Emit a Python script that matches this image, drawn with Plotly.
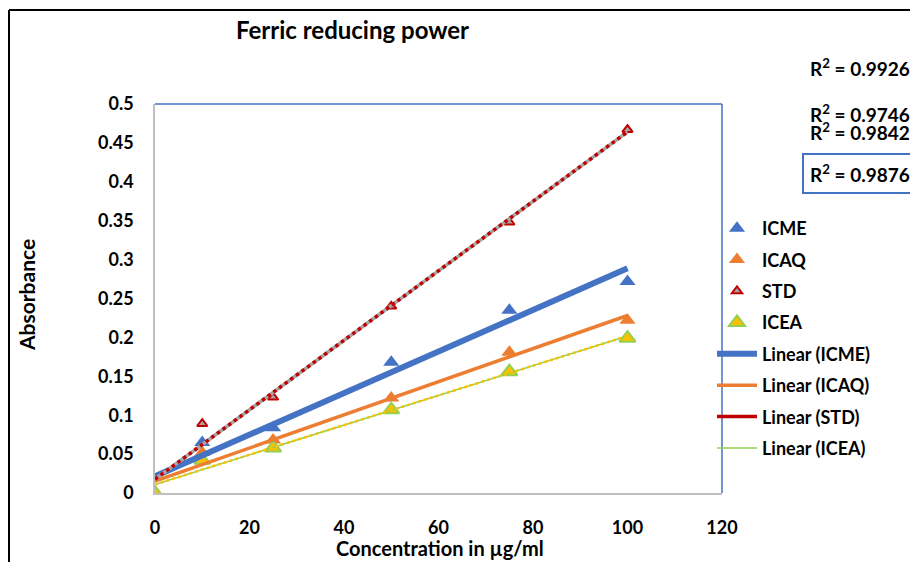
import numpy as np
import plotly.graph_objects as go

# ---- data ----
conc = [0, 10, 25, 50, 75, 100]
icme = [0, 0.065, 0.084, 0.168, 0.235, 0.272]
icaq = [0, 0.052, 0.068, 0.122, 0.181, 0.222]
std = [0, 0.089, 0.123, 0.240, 0.348, 0.467]
icea = [0, 0.042, 0.058, 0.107, 0.156, 0.199]
r2_labels = ["0.9926", "0.9746", "0.9842", "0.9876"]
x_ticks = [0, 20, 40, 60, 80, 100, 120]
y_ticks = [0, 0.05, 0.1, 0.15, 0.2, 0.25, 0.3, 0.35, 0.4, 0.45, 0.5]
y_tick_text = ["0", "0.05", "0.1", "0.15", "0.2", "0.25", "0.3", "0.35", "0.4", "0.45", "0.5"]

BLUE = "#4472C4"
ORANGE = "#ED7D31"
RED = "#C00000"
YELLOW = "#FFC000"
GREEN = "#92D050"
FONT = "Lato"

def fit(x, y):
    m, b = np.polyfit(x, y, 1)
    xs = np.array([min(x), max(x)])
    return xs, m * xs + b

fig = go.Figure()

# markers
fig.add_trace(go.Scatter(x=conc, y=icme, mode="markers", name="ICME", legendgroup="a",
                         marker=dict(symbol="triangle-up", size=14, color=BLUE)))
fig.add_trace(go.Scatter(x=conc, y=icaq, mode="markers", name="ICAQ", legendgroup="b",
                         marker=dict(symbol="triangle-up", size=14, color=ORANGE)))
fig.add_trace(go.Scatter(x=conc, y=std, mode="markers", name="STD", legendgroup="c",
                         marker=dict(symbol="triangle-up", size=9, color="#A5A5A5",
                                     line=dict(color=RED, width=2))))
fig.add_trace(go.Scatter(x=conc, y=icea, mode="markers", name="ICEA", legendgroup="d",
                         marker=dict(symbol="triangle-up", size=14, color=YELLOW,
                                     line=dict(color=GREEN, width=2))))

# trendlines
xs, ys = fit(conc, icme)
fig.add_trace(go.Scatter(x=xs, y=ys, mode="lines", name="Linear (ICME)", legendgroup="e",
                         line=dict(color=BLUE, width=6)))
xs, ys = fit(conc, icaq)
fig.add_trace(go.Scatter(x=xs, y=ys, mode="lines", name="Linear (ICAQ)", legendgroup="f",
                         line=dict(color=ORANGE, width=3.5)))
xs, ys = fit(conc, std)
fig.add_trace(go.Scatter(x=xs, y=ys, mode="lines", showlegend=False, legendgroup="g",
                         line=dict(color="#A5A5A5", width=3.5), hoverinfo="skip"))
fig.add_trace(go.Scatter(x=xs, y=ys, mode="lines", showlegend=False, legendgroup="g",
                         line=dict(color=RED, width=3.5, dash="dot")))
fig.add_trace(go.Scatter(x=[None], y=[None], mode="lines", name="Linear (STD)", legendgroup="g",
                         line=dict(color=RED, width=3.5)))
xs, ys = fit(conc, icea)
fig.add_trace(go.Scatter(x=xs, y=ys, mode="lines", name="Linear (ICEA)", legendgroup="h",
                         line=dict(color=GREEN, width=1.5)))
fig.add_trace(go.Scatter(x=xs, y=ys, mode="lines", showlegend=False, legendgroup="h",
                         line=dict(color=YELLOW, width=2.5, dash="dot"), hoverinfo="skip"))

L, R, T, B = 155, 188, 104, 69
W, H = 910, 562
pw, ph = W - L - R, H - T - B

def px_x(p):
    return (p - L) / pw

def px_y(p):
    return (H - B - p) / ph

shapes = [
    dict(type="line", xref="paper", yref="paper", x0=0, x1=1, y0=1, y1=1,
         line=dict(color=BLUE, width=1.5)),
    dict(type="line", xref="paper", yref="paper", x0=1, x1=1, y0=0, y1=1,
         line=dict(color=BLUE, width=1.5)),
    dict(type="line", xref="paper", yref="paper", x0=px_x(9), x1=px_x(9), y0=px_y(570), y1=px_y(10),
         line=dict(color="black", width=2)),
    dict(type="line", xref="paper", yref="paper", x0=px_x(9), x1=px_x(920), y0=px_y(10), y1=px_y(10),
         line=dict(color="black", width=2)),
]

annotations = [
    dict(text="Ferric reducing power", x=px_x(352), y=px_y(30), xref="paper", yref="paper",
         xanchor="center", yanchor="middle",
         showarrow=False, font=dict(family=FONT, size=24, color="black", weight="bold")),
    dict(text="Absorbance", x=px_x(26), y=px_y(295), xref="paper", yref="paper",
         xanchor="center", yanchor="middle",
         textangle=-90, showarrow=False, font=dict(family=FONT, size=21, color="black", weight="bold")),
    dict(text="Concentration in µg/ml", x=px_x(440), y=px_y(548), xref="paper", yref="paper",
         xanchor="center", yanchor="middle",
         showarrow=False, font=dict(family=FONT, size=20, color="black", weight="bold")),
]
r2_y = [67, 113, 131, 173]
for i, (lab, yy) in enumerate(zip(r2_labels, r2_y)):
    a = dict(text="R<sup>2</sup> = " + lab, x=px_x(808), y=px_y(yy), xref="paper", yref="paper",
             xanchor="left", yanchor="middle", showarrow=False,
             font=dict(family=FONT, size=19, color="black", weight="bold"))
    if i == 3:
        a.update(bordercolor=BLUE, borderwidth=2, borderpad=6, x=px_x(802))
    annotations.append(a)

fig.update_layout(
    width=W, height=H,
    margin=dict(l=L, r=R, t=T, b=B),
    paper_bgcolor="white", plot_bgcolor="white",
    font=dict(family=FONT, color="black"),
    showlegend=True,
    legend=dict(x=px_x(712), y=px_y(210), xanchor="left", yanchor="top",
                font=dict(family=FONT, size=18, color="black", weight="bold"),
                tracegroupgap=5, bgcolor="rgba(0,0,0,0)", itemwidth=40,
                traceorder="grouped"),
    xaxis=dict(range=[0, 120], tickvals=x_ticks, ticktext=[str(v) for v in x_ticks],
               showgrid=False, zeroline=False, showline=True, linecolor="#BFBFBF", linewidth=1.5,
               ticks="", ticklabelstandoff=18,
               tickfont=dict(family=FONT, size=18, color="black", weight="bold")),
    yaxis=dict(range=[0, 0.5], tickvals=y_ticks, ticktext=y_tick_text,
               showgrid=False, zeroline=False, showline=True, linecolor="#BFBFBF", linewidth=1.5,
               ticks="", ticklabelstandoff=16,
               tickfont=dict(family=FONT, size=18, color="black", weight="bold")),
    shapes=shapes,
    annotations=annotations,
)

fig.write_html("out.html", config={"displayModeBar": False})

# remove default body margin so the figure sits at the window origin
with open("out.html", "r", encoding="utf-8") as f:
    html = f.read()
html = html.replace("<body>", '<body style="margin:0;padding:0;overflow:hidden">', 1)
with open("out.html", "w", encoding="utf-8") as f:
    f.write(html)
